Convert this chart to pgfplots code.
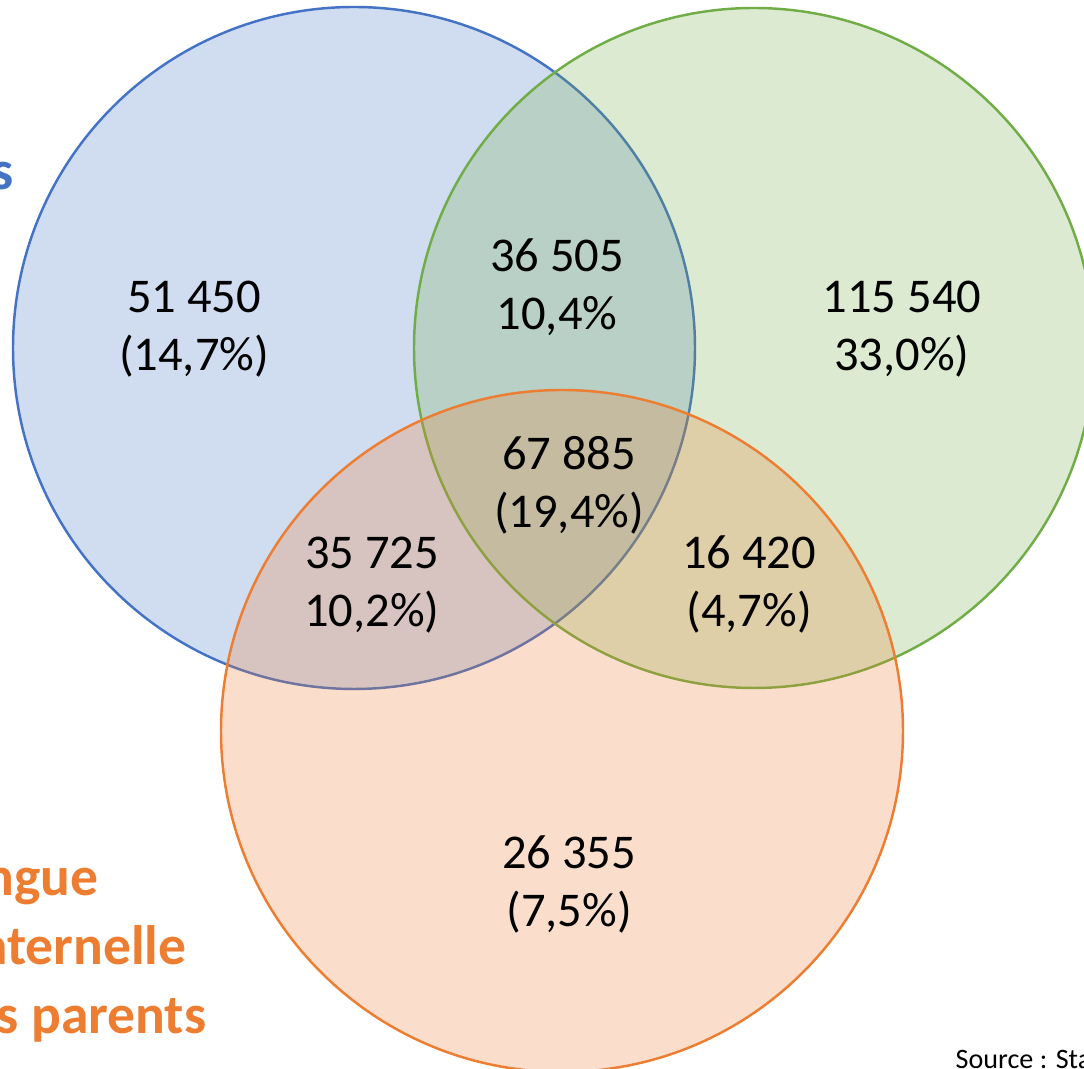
\documentclass[border=0pt]{standalone}
\usepackage{fontspec}
\setmainfont{Carlito}
\usepackage{pgfplots}
\pgfplotsset{compat=1.18}

\definecolor{cblue}{HTML}{4472C4}
\definecolor{cgreen}{HTML}{70AD47}
\definecolor{corange}{HTML}{ED7D31}

\begin{document}
\begin{tikzpicture}
\useasboundingbox (0,0) rectangle (10.84cm,10.69cm);
\clip (0,0) rectangle (10.84cm,10.69cm);
\begin{axis}[
  width=10.84cm, height=10.69cm,
  scale only axis,
  xmin=0, xmax=1084, ymin=0, ymax=1069,
  y dir=reverse,
  hide axis,
  clip=false,
]

% circles: centre in picture units, radius 1 unit = 0.1 mm
\addplot[only marks, mark=*, mark size=3.41cm,
  mark options={draw=cblue, line width=0.7pt, fill=cblue, fill opacity=0.25}]
  coordinates {(354,348)};
\addplot[only marks, mark=*, mark size=3.40cm,
  mark options={draw=cgreen, line width=0.7pt, fill=cgreen, fill opacity=0.25}]
  coordinates {(754,348)};
\addplot[only marks, mark=*, mark size=3.41cm,
  mark options={draw=corange, line width=0.7pt, fill=corange, fill opacity=0.25}]
  coordinates {(562,731)};

% anchors for the texts, drawn after the axis so they sit above the fills
\coordinate (A) at (axis cs:194,329);
\coordinate (AB) at (axis cs:557,287);
\coordinate (B) at (axis cs:902,329);
\coordinate (ABC) at (axis cs:569,485);
\coordinate (AC) at (axis cs:372,585);
\coordinate (BC) at (axis cs:749,585);
\coordinate (C) at (axis cs:569,885);
\coordinate (nA) at (axis cs:14,190);
\coordinate (nC1) at (axis cs:99,896);
\coordinate (nC2) at (axis cs:187,965);
\coordinate (nC3) at (axis cs:207,1034);
\coordinate (src) at (axis cs:955,1069);
\end{axis}

\tikzset{lab/.style={font=\fontsize{13.8}{16.5}\selectfont, align=center, text=black},
  nm/.style={anchor=base east, inner sep=0pt, font=\fontsize{15.8}{18}\selectfont\bfseries}}
\node[lab] at (A) {51 450\\(14,7\%)};
\node[lab] at (AB) {36 505\\10,4\%};
\node[lab] at (B) {115 540\\33,0\%)};
\node[lab] at (ABC) {67 885\\(19,4\%)};
\node[lab] at (AC) {35 725\\10,2\%)};
\node[lab] at (BC) {16 420\\(4,7\%)};
\node[lab] at (C) {26 355\\(7,5\%)};

% set names (cut by the frame)
\node[nm, text=cblue] at (nA) {Langues};
\node[nm, text=corange] at (nC1) {Langue};
\node[nm, text=corange] at (nC2) {maternelle};
\node[nm, text=corange] at (nC3) {des parents};

\node[anchor=base west, inner sep=0pt, font=\fontsize{8}{9}\selectfont] at (src) {Source : Statistique Canada};
\end{tikzpicture}
\end{document}
